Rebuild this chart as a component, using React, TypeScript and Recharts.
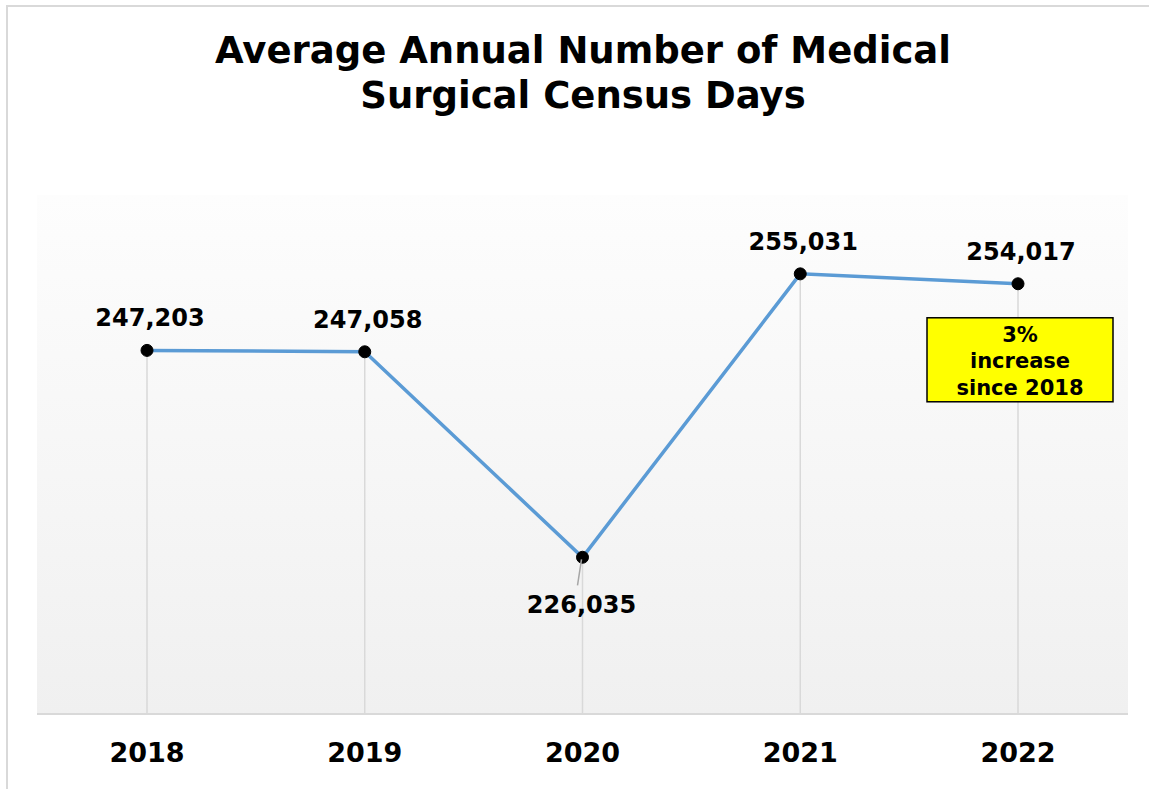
import React from "react";
import { LineChart, Line, XAxis, YAxis, CartesianGrid, LabelList, ReferenceLine } from "recharts";

const years = ["2018", "2019", "2020", "2021", "2022"];
const censusDays = [247203, 247058, 226035, 255031, 254017];
const titleLines = ["Average Annual Number of Medical", "Surgical Census Days"];
const noteLines = ["3%", "increase", "since 2018"];
const yDomain = [210000, 263100];

const data = years.map((y, i) => ({ year: y, value: censusDays[i] }));

const FONT = "'DejaVu Sans', Verdana, sans-serif";

const fmt = (v: number) => v.toLocaleString("en-US");

const renderLabel = (props: any) => {
  const { x, y, value, index } = props;
  const below = index === 2;
  const last = index === censusDays.length - 1;
  return (
    <g>
      {below && (
        <line x1={x - 1} y1={y + 2} x2={x - 5} y2={y + 28} stroke="#a6a6a6" strokeWidth={1.5} />
      )}
      <text
        x={x + (below ? -1 : 3)}
        y={below ? y + 56 : y - 24}
        textAnchor="middle"
        fontFamily={FONT}
        fontWeight="bold"
        fontSize={24}
        fill="#000"
      >
        {fmt(value)}
      </text>
      {last && (
        <g>
          <rect x={x - 91} y={y + 34} width={186} height={84} fill="#ffff00" stroke="#000" strokeWidth={1.5} />
          {noteLines.map((t, i) => (
            <text
              key={i}
              x={x + 2}
              y={y + 58 + i * 26.5}
              textAnchor="middle"
              fontFamily={FONT}
              fontWeight="bold"
              fontSize={21}
              fill="#000"
            >
              {t}
            </text>
          ))}
        </g>
      )}
    </g>
  );
};

const renderTick = (props: any) => {
  const { x, payload } = props;
  return (
    <text x={x} y={762} textAnchor="middle" fontFamily={FONT} fontWeight="bold" fontSize={27} fill="#000">
      {payload.value}
    </text>
  );
};

export default function App() {
  return (
    <div style={{ position: "absolute", left: 0, top: 0, width: 1149, height: 789, background: "#fff" }}>
      <div style={{ position: "absolute", left: 6, top: 5, width: 1143, height: 2, background: "#d9d9d9" }} />
      <div style={{ position: "absolute", left: 6, top: 5, width: 2, height: 784, background: "#d9d9d9" }} />
      <svg style={{ position: "absolute", left: 0, top: 0 }} width={1149} height={130}>
        {titleLines.map((t, i) => (
          <text
            key={i}
            x={583}
            y={63 + i * 45}
            textAnchor="middle"
            fontFamily={FONT}
            fontWeight="bold"
            fontSize={37}
            fill="#000"
          >
            {t}
          </text>
        ))}
      </svg>
      <div style={{ position: "absolute", left: 0, top: 0 }}>
        <LineChart
          width={1149}
          height={789}
          data={data}
          margin={{ top: 195, right: 21, left: 37, bottom: 0 }}
        >
          <defs>
            <linearGradient id="bgGrad" x1="0" y1="0" x2="0" y2="1">
              <stop offset="0%" stopColor="#fdfdfd" />
              <stop offset="100%" stopColor="#f0f0f0" />
            </linearGradient>
          </defs>
          <CartesianGrid horizontal={false} vertical={false} fill="url(#bgGrad)" stroke="none" />
          <XAxis
            dataKey="year"
            height={75}
            padding={{ left: 110, right: 110 }}
            axisLine={{ stroke: "#d9d9d9", strokeWidth: 2 }}
            tickLine={false}
            tick={renderTick}
            interval={0}
          />
          <YAxis hide domain={yDomain} allowDataOverflow type="number" />
          {data.map((d) => (
            <ReferenceLine
              key={d.year}
              segment={[
                { x: d.year, y: d.value },
                { x: d.year, y: yDomain[0] },
              ]}
              stroke="#d9d9d9"
              strokeWidth={1.5}
            />
          ))}
          <Line
            type="linear"
            dataKey="value"
            stroke="#5b9bd5"
            strokeWidth={3.5}
            dot={{ r: 6, fill: "#000", stroke: "#000", strokeWidth: 1 }}
            isAnimationActive={false}
          >
            <LabelList dataKey="value" content={renderLabel} />
          </Line>
        </LineChart>
      </div>
    </div>
  );
}
